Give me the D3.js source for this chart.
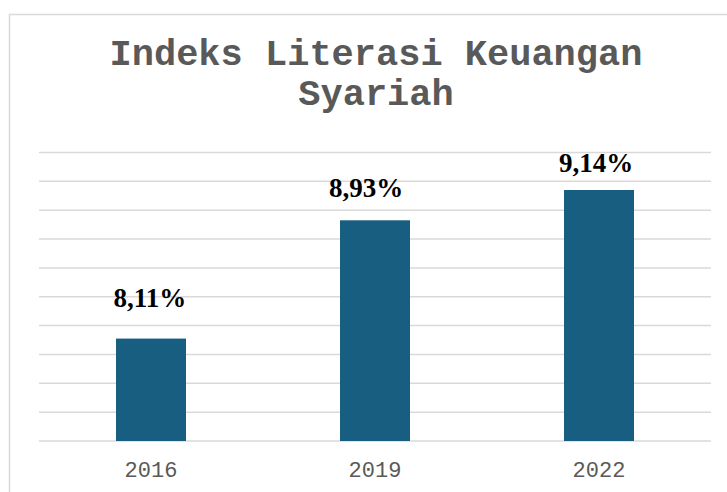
<!DOCTYPE html>
<html>
<head>
<meta charset="utf-8">
<script src="https://cdn.jsdelivr.net/npm/d3@7/dist/d3.min.js"></script>
<style>
  html, body { margin: 0; padding: 0; background: #fff; }
</style>
</head>
<body>
<svg id="chart" width="727" height="492"></svg>
<script>
// data
const years = ["2016", "2019", "2022"];
const values = [8.11, 8.93, 9.14];
const valueLabels = ["8,11%", "8,93%", "9,14%"];
const titleLines = ["Indeks Literasi Keuangan", "Syariah"];
const yDomain = [7.4, 9.4];
const yTickStep = 0.2;

// layout
const svg = d3.select("#chart");
const plot = { left: 39, right: 711, top: 152.5, bottom: 441 };
const barColor = "#175e80";
const gridColor = "#d9d9d9";
// hand placed label nudges (the original labels are not evenly placed)
const labelDx = [-1, -9, -3];
const labelLift = [32, 23, 18];

// outer frame, only the top and left edges are inside the picture
svg.append("rect")
    .attr("x", 9.5).attr("y", 14.5)
    .attr("width", 760).attr("height", 520)
    .attr("fill", "none")
    .attr("stroke", gridColor)
    .attr("stroke-width", 1.5);

const x = d3.scaleBand()
    .domain(years)
    .range([plot.left, plot.right])
    .paddingInner(0.6875)
    .paddingOuter(0.34375);

const y = d3.scaleLinear()
    .domain(yDomain)
    .range([plot.bottom, plot.top]);

const ticks = d3.range(yDomain[0], yDomain[1] + yTickStep / 2, yTickStep);

// gridlines
svg.append("g")
    .selectAll("line")
    .data(ticks)
    .join("line")
    .attr("x1", plot.left).attr("x2", plot.right)
    .attr("y1", d => y(d)).attr("y2", d => y(d))
    .attr("stroke", gridColor)
    .attr("stroke-width", 1.5);

// bars
svg.append("g")
    .selectAll("rect")
    .data(values)
    .join("rect")
    .attr("x", (d, i) => x(years[i]))
    .attr("y", d => y(d))
    .attr("width", x.bandwidth())
    .attr("height", d => y(yDomain[0]) - y(d))
    .attr("fill", barColor);

// value labels
svg.append("g")
    .selectAll("text")
    .data(values)
    .join("text")
    .attr("x", (d, i) => x(years[i]) + x.bandwidth() / 2 + labelDx[i])
    .attr("y", (d, i) => y(d) - labelLift[i])
    .attr("text-anchor", "middle")
    .attr("font-family", "'Liberation Serif', 'Times New Roman', serif")
    .attr("font-weight", "bold")
    .attr("font-size", 27)
    .attr("fill", "#000")
    .text((d, i) => valueLabels[i]);

// category axis
const xAxis = svg.append("g")
    .attr("transform", `translate(0,${plot.bottom})`)
    .call(d3.axisBottom(x).tickSize(0).tickPadding(0));
xAxis.select(".domain").remove();
xAxis.selectAll("text")
    .attr("dy", 36)
    .attr("font-family", "'Liberation Mono', 'Courier New', monospace")
    .attr("font-size", 22)
    .attr("fill", "#595959");

// title
svg.append("g")
    .selectAll("text")
    .data(titleLines)
    .join("text")
    .attr("x", 376)
    .attr("y", (d, i) => 65 + i * 40)
    .attr("text-anchor", "middle")
    .attr("font-family", "'Liberation Mono', 'Courier New', monospace")
    .attr("font-weight", "bold")
    .attr("font-size", 37)
    .attr("fill", "#595959")
    .text(d => d);
</script>
</body>
</html>
